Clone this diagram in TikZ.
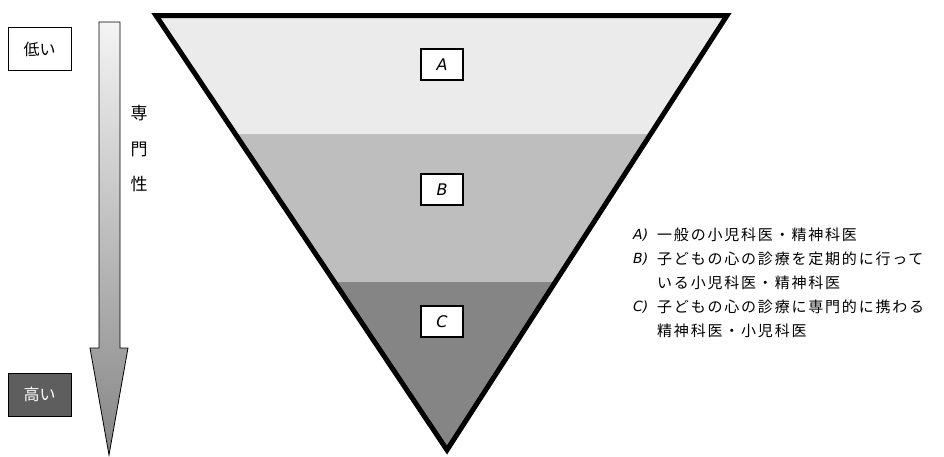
\documentclass[tikz,border=0pt]{standalone}
\usepackage{fontspec}
\newfontfamily\jp{Noto Sans CJK JP}
\newfontfamily\jpls[LetterSpace=12]{Noto Sans CJK JP}
\newfontfamily\labfont{DejaVu Sans}
\definecolor{bandA}{HTML}{EBEBEB}
\definecolor{bandB}{HTML}{BEBEBE}
\definecolor{bandC}{HTML}{858585}
\definecolor{arrTop}{HTML}{F4F4F4}
\definecolor{arrBot}{HTML}{858585}
\definecolor{highFill}{HTML}{5E5E5E}
\tikzset{
  labbox/.style={draw=black, line width=1.4pt, fill=white, minimum width=42pt, minimum height=31pt, inner sep=0pt, font=\labfont\itshape\fontsize{16}{16}\selectfont},
  lvlbox/.style={draw=black, line width=0.9pt, minimum width=63pt, minimum height=43pt, inner sep=0pt, font=\jp\fontsize{16}{16}\selectfont},
  legkey/.style={anchor=west, inner sep=0pt, font=\labfont\itshape\fontsize{14}{14}\selectfont},
  legtxt/.style={anchor=west, inner sep=0pt, font=\jpls\fontsize{15}{15}\selectfont},
  vtext/.style={inner sep=0pt, font=\jp\fontsize{17}{17}\selectfont}
}
\begin{document}
\begin{tikzpicture}[x=1pt,y=-1pt]
\useasboundingbox (0,0) rectangle (944,456);
\fill[white] (0,0) rectangle (944,456);
% triangle
\coordinate (TL) at (156,15.5);
\coordinate (TR) at (727,15.5);
\coordinate (AP) at (447,450);
\begin{scope}
  \clip (TL) -- (TR) -- (AP) -- cycle;
  \fill[bandA] (0,0) rectangle (944,134);
  \fill[bandB] (0,134) rectangle (944,282);
  \fill[bandC] (0,282) rectangle (944,456);
\end{scope}
\draw[line width=5pt, line join=miter] (TL) -- (TR) -- (AP) -- cycle;
\node[labbox] (A) at (442,64.5) {A};
\node[labbox] (B) at (442,189.5) {B};
\node[labbox] (C) at (442,321.5) {C};
% arrow
\shade[top color=arrTop, bottom color=arrBot] (99,22) -- (120,22) -- (120,348) -- (128,348) -- (109,455) -- (90,348) -- (99,348) -- cycle;
\draw[line width=0.8pt, line join=miter] (99,22) -- (120,22) -- (120,348) -- (128,348) -- (109,455) -- (90,348) -- (99,348) -- cycle;
% level boxes
\node[lvlbox] (low) at (39.5,49) {低い};
\node[lvlbox, fill=highFill, text=white] (high) at (39.5,394.5) {高い};
% vertical text
\node[vtext] (v1) at (139,113) {専};
\node[vtext] (v2) at (139,149) {門};
\node[vtext] (v3) at (139,184) {性};
% legend
\node[legkey] (kA) at (633,235) {A)};
\node[legtxt] (tA) at (657,235) {一般の小児科医・精神科医};
\node[legkey] (kB) at (633,259) {B)};
\node[legtxt] (tB1) at (657,259) {子どもの心の診療を定期的に行って};
\node[legtxt] (tB2) at (657,283) {いる小児科医・精神科医};
\node[legkey] (kC) at (633,307) {C)};
\node[legtxt] (tC1) at (657,307) {子どもの心の診療に専門的に携わる};
\node[legtxt] (tC2) at (657,331) {精神科医・小児科医};
\end{tikzpicture}
\end{document}
